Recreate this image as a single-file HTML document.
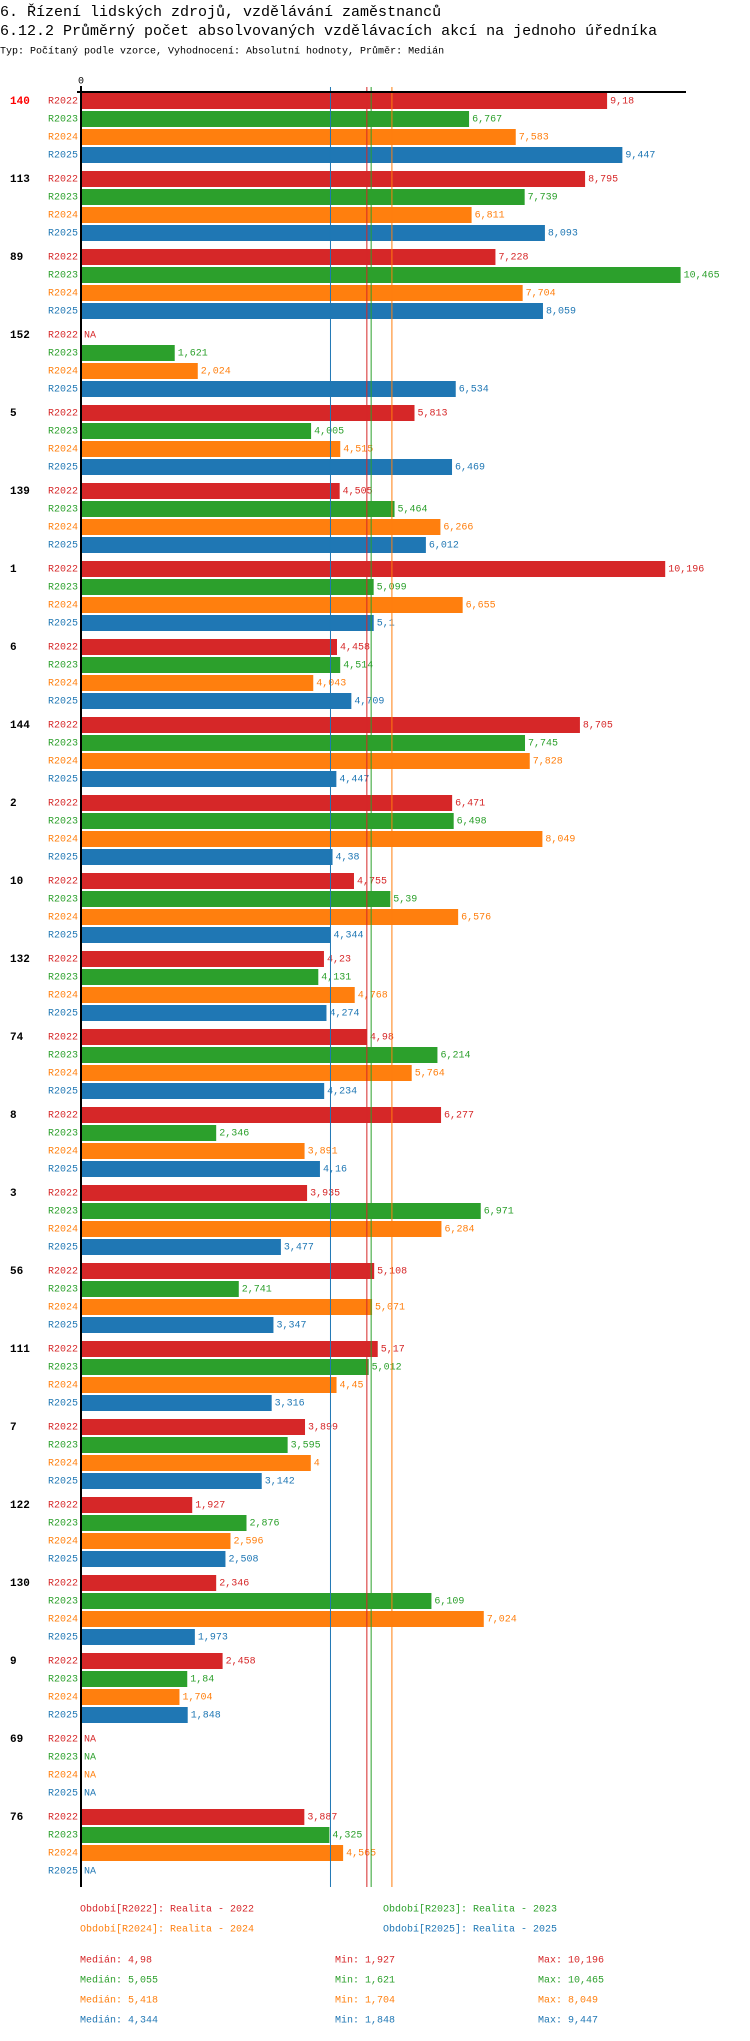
<!DOCTYPE html>
<html><head><meta charset="utf-8">
<style>
html,body{margin:0;padding:0;background:#fff;}
body{width:750px;height:2036px;overflow:hidden;font-family:"Liberation Mono","DejaVu Sans Mono",monospace;}
svg text{font-family:"Liberation Mono","DejaVu Sans Mono",monospace;}
</style></head>
<body>
<svg id="chart" width="750" height="2036" xmlns="http://www.w3.org/2000/svg">
<text x="0" y="12" font-size="15" dominant-baseline="middle" fill="#000">6. Řízení lidských zdrojů, vzdělávání zaměstnanců</text>
<text x="0" y="31" font-size="15" dominant-baseline="middle" fill="#000">6.12.2 Průměrný počet absolvovaných vzdělávacích akcí na jednoho úředníka</text>
<text x="0" y="51" font-size="10" dominant-baseline="middle" fill="#000">Typ: Počítaný podle vzorce, Vyhodnocení: Absolutní hodnoty, Průměr: Medián</text>
<text x="81" y="81" font-size="10" text-anchor="middle" dominant-baseline="middle" fill="#000">0</text>
<g id="bars"></g>
<g id="medians"></g>
<line x1="77" y1="92" x2="686" y2="92" stroke="#000" stroke-width="2"/>
<line x1="81" y1="86" x2="81" y2="1887" stroke="#000" stroke-width="2"/>
<g id="legend"></g>
</svg>
<script>
const groups = ["140","113","89","152","5","139","1","6","144","2","10","132","74","8","3","56","111","7","122","130","9","69","76"];
const series = ["R2022","R2023","R2024","R2025"];
const v2022 = [9.18,8.795,7.228,null,5.813,4.505,10.196,4.458,8.705,6.471,4.755,4.23,4.98,6.277,3.935,5.108,5.17,3.899,1.927,2.346,2.458,null,3.887];
const v2023 = [6.767,7.739,10.465,1.621,4.005,5.464,5.099,4.514,7.745,6.498,5.39,4.131,6.214,2.346,6.971,2.741,5.012,3.595,2.876,6.109,1.84,null,4.325];
const v2024 = [7.583,6.811,7.704,2.024,4.515,6.266,6.655,4.043,7.828,8.049,6.576,4.768,5.764,3.891,6.284,5.071,4.45,4,2.596,7.024,1.704,null,4.565];
const v2025 = [9.447,8.093,8.059,6.534,6.469,6.012,5.1,4.709,4.447,4.38,4.344,4.274,4.234,4.16,3.477,3.347,3.316,3.142,2.508,1.973,1.848,null,null];
const medians = [4.98,5.055,5.418,4.344];
const mins = [1.927,1.621,1.704,1.848];
const maxs = [10.196,10.465,8.049,9.447];
const legendLabels = ["Období[R2022]: Realita - 2022","Období[R2023]: Realita - 2023","Období[R2024]: Realita - 2024","Období[R2025]: Realita - 2025"];

const colors = ["#d62728","#2ca02c","#ff7f0e","#1f77b4"];
const values = [v2022,v2023,v2024,v2025];
const NS = "http://www.w3.org/2000/svg";
const X0 = 82, SCALE = 57.2;
const xScale = v => X0 + v*SCALE;
const yRow = (g,s) => 93 + g*78 + s*18;
const fmt = v => String(v).replace('.', ',');
function mk(tag, attrs, parent){const e=document.createElementNS(NS,tag);for(const k in attrs)e.setAttribute(k,attrs[k]);parent.appendChild(e);return e;}
const barsG = document.getElementById('bars');
groups.forEach((gname,gi)=>{
  const gl = mk('text',{x:10,y:yRow(gi,0)+8,'font-size':11,'font-weight':'bold','dominant-baseline':'middle',fill:gi===0?'#ff0000':'#000'},barsG);
  gl.textContent = gname;
  
  
  series.forEach((sname,si)=>{
    const y = yRow(gi,si);
    const sl = mk('text',{x:78,y:y+8,'font-size':10,'text-anchor':'end','dominant-baseline':'middle',fill:colors[si]},barsG);
    sl.textContent = sname;
    
    
    const v = values[si][gi];
    if(v===null){
      const na = mk('text',{x:84,y:y+8,'font-size':10,'dominant-baseline':'middle',fill:colors[si]},barsG);
      na.textContent='NA';
      
      
    } else {
      const r = mk('rect',{x:X0,y:y,width:xScale(v)-X0,height:16,fill:colors[si]},barsG);
      
      
      const t = mk('text',{x:xScale(v)+3,y:y+8,'font-size':10,'dominant-baseline':'middle',fill:colors[si]},barsG);
      t.textContent = fmt(v);
      
      
    }
  });
});
const medG = document.getElementById('medians');
medians.forEach((m,i)=>{
  const l = mk('line',{x1:xScale(m),x2:xScale(m),y1:87,y2:1887,stroke:colors[i],'stroke-width':1},medG);
  
  
});
const legG = document.getElementById('legend');
legendLabels.forEach((lab,i)=>{
  const t = mk('text',{x:(i%2===0)?80:383,y:1909+Math.floor(i/2)*20,'font-size':10,'dominant-baseline':'middle',fill:colors[i]},legG);
  t.textContent = lab;
  
  
});
series.forEach((s,i)=>{
  const y = 1960 + i*20;
  const a = mk('text',{x:80,y:y,'font-size':10,'dominant-baseline':'middle',fill:colors[i]},legG);
  a.textContent = 'Medián: '+fmt(medians[i]);
  
  
  const b = mk('text',{x:335,y:y,'font-size':10,'dominant-baseline':'middle',fill:colors[i]},legG);
  b.textContent = 'Min: '+fmt(mins[i]);
  
  
  const c = mk('text',{x:538,y:y,'font-size':10,'dominant-baseline':'middle',fill:colors[i]},legG);
  c.textContent = 'Max: '+fmt(maxs[i]);
  
  
});
</script>
</body></html>
